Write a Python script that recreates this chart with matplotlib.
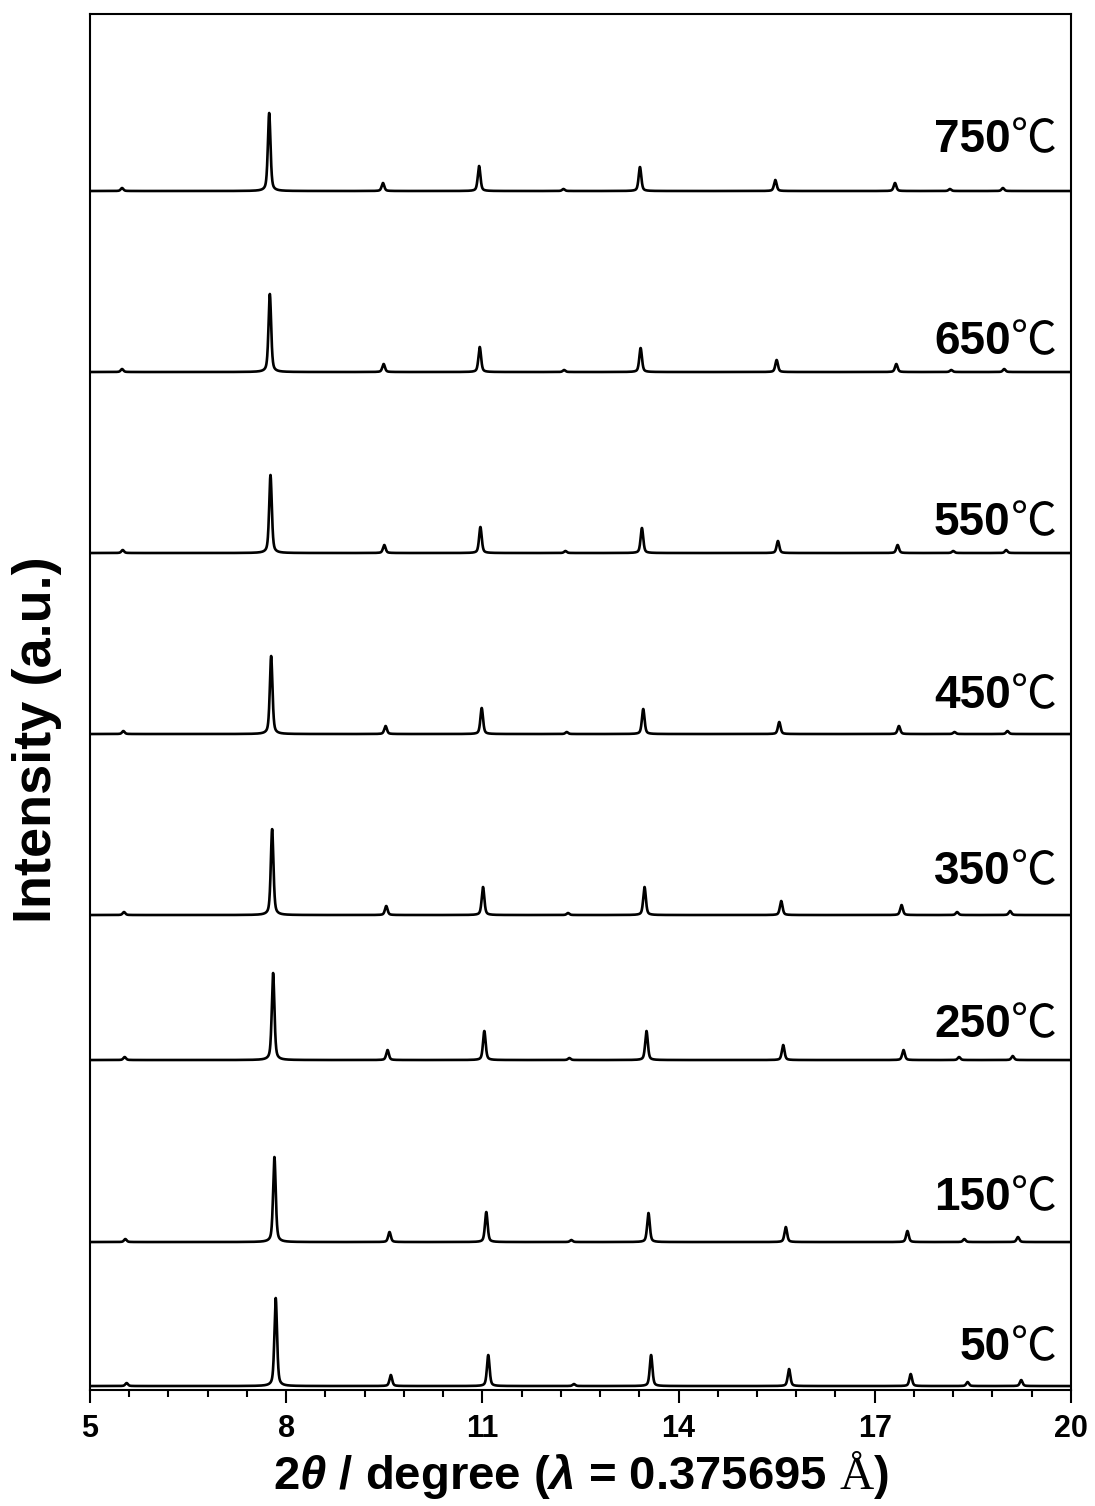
import numpy as np
import matplotlib
matplotlib.use('Agg')
import matplotlib.pyplot as plt

plt.rcParams.update({
    'font.family': 'Liberation Sans',
    'font.weight': 'bold',
    'axes.labelweight': 'bold',
    'mathtext.fontset': 'custom',
    'mathtext.bfit': 'Liberation Sans:italic:bold',
    'mathtext.rm': 'Liberation Serif:normal',
    'axes.linewidth': 1.5,
})

# in-situ XRD, one pattern per temperature (top to bottom)
temps = ['750', '650', '550', '450', '350', '250', '150', '50']

# reflection positions (2theta, degree) for each temperature
peak_pos = [
    [5.49, 7.74, 9.48, 10.95, 12.24, 13.41, 15.48, 17.31, 18.15, 18.96],
    [5.49, 7.75, 9.49, 10.96, 12.25, 13.42, 15.50, 17.33, 18.17, 18.98],
    [5.50, 7.76, 9.50, 10.97, 12.27, 13.44, 15.52, 17.35, 18.20, 19.01],
    [5.51, 7.77, 9.52, 10.99, 12.29, 13.46, 15.54, 17.37, 18.22, 19.03],
    [5.52, 7.785, 9.53, 11.01, 12.31, 13.48, 15.57, 17.41, 18.26, 19.07],
    [5.53, 7.80, 9.55, 11.03, 12.33, 13.51, 15.60, 17.44, 18.29, 19.11],
    [5.54, 7.82, 9.58, 11.06, 12.36, 13.54, 15.64, 17.50, 18.37, 19.19],
    [5.56, 7.84, 9.60, 11.09, 12.40, 13.58, 15.69, 17.55, 18.42, 19.24],
]

# peak heights (a.u.)
peak_int = [
    [3, 78, 8, 25, 2, 24, 11, 8, 2, 3],
    [3, 78, 8, 25, 2, 24, 12, 8, 2, 3],
    [3, 78, 8, 26, 2, 25, 12, 8, 2, 3],
    [3, 78, 8, 26, 2, 25, 12, 8, 2, 3],
    [3, 86, 9, 28, 2, 28, 14, 10, 3, 4],
    [3, 87, 10, 29, 2, 29, 15, 10, 3, 4],
    [3, 85, 10, 30, 2, 29, 15, 11, 3, 5],
    [3, 88, 11, 31, 2, 31, 17, 12, 4, 6],
]

# vertical offset of each pattern
offsets = [1199, 1018, 837, 656, 475, 330, 148, 4]

# label baselines
label_y = [1238, 1036, 855, 682, 506, 353, 180, 30]

major_ticks = [5, 8, 11, 14, 17, 20]

FWHM = 0.048
ETA = 0.5


def pseudo_voigt(x, x0, h, w=FWHM, eta=ETA):
    u = (x - x0) / (w / 2)
    return h * (eta / (1 + u**2) + (1 - eta) * np.exp(-np.log(2) * u**2))


two_theta = np.arange(5.0, 20.0005, 0.002)

fig = plt.figure(figsize=(10.95, 15.06), dpi=100)
ax = fig.add_axes([0.0822, 0.077, 0.8958, 0.9137])

for pos, hts, off in zip(peak_pos, peak_int, offsets):
    y = np.full_like(two_theta, float(off))
    for p, h in zip(pos, hts):
        y += pseudo_voigt(two_theta, p, h)
    ax.plot(two_theta, y, color='black', lw=1.9)

ax.set_xlim(5, 20)
ax.set_ylim(0, 1376)
ax.set_xticks(major_ticks)
ax.set_xticks(np.arange(5, 20.01, 0.6), minor=True)
ax.tick_params(axis='x', which='major', direction='out', length=9, width=1.5,
               labelsize=22, pad=8)
ax.tick_params(axis='x', which='minor', direction='out', length=5, width=1.5)
ax.set_yticks([])

ax.set_xlabel(r'2$\mathbfit{\theta}$ / degree ($\mathbfit{\lambda}$ = 0.375695 $\mathrm{Å}$)',
              fontsize=34, labelpad=4)
ax.set_ylabel('Intensity (a.u.)', fontsize=39)
ax.yaxis.set_label_coords(-0.029, 0.473)

renderer = fig.canvas.get_renderer()
x_lab = 19.78
for t, ly in zip(temps, label_y):
    deg = ax.text(x_lab, ly, '℃', ha='right', va='baseline', fontsize=33,
                  family='Noto Sans CJK SC', fontweight='normal')
    w = deg.get_window_extent(renderer).width
    ax.annotate(t, xy=(x_lab, ly), xytext=(-w * 72 / fig.dpi, 0),
                textcoords='offset points', ha='right', va='baseline',
                fontsize=33, fontweight='bold')

fig.savefig('out.png', dpi=100)
